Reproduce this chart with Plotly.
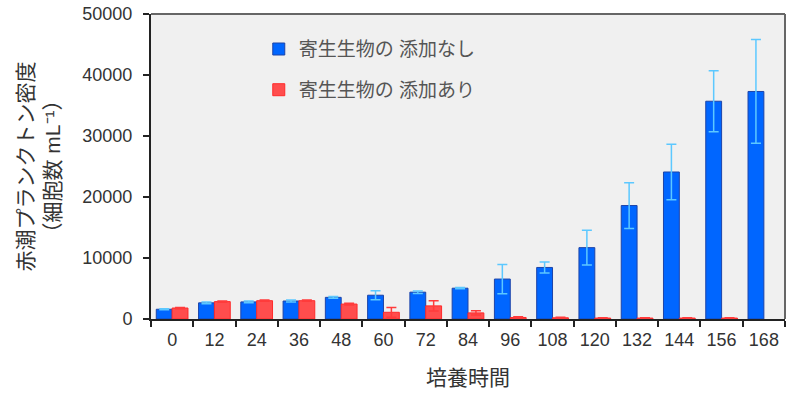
import plotly.graph_objects as go

hours = ["0", "12", "24", "36", "48", "60", "72", "84", "96", "108", "120", "132", "144", "156", "168"]
no_parasite = [1600, 2650, 2800, 2950, 3550, 3900, 4400, 5050, 6550, 8450, 11700, 18600, 24100, 35700, 37300]
no_parasite_err = [100, 150, 150, 150, 150, 750, 200, 100, 2400, 900, 2850, 3750, 4550, 5000, 8500]
with_parasite = [1800, 2850, 3000, 3000, 2450, 1100, 2150, 1000, 250, 200, 150, 150, 150, 150, None]
with_parasite_err = [100, 100, 100, 100, 150, 800, 850, 350, 100, 100, 50, 50, 50, 50, None]

name_no = "寄生生物の 添加なし"
name_with = "寄生生物の 添加あり"
y_title = "赤潮プランクトン密度<br>（細胞数 mL⁻¹）"
x_title = "培養時間"

FONT = "Liberation Sans, Arial, Noto Sans CJK JP, sans-serif"

fig = go.Figure()
fig.add_trace(go.Bar(
    x=hours, y=no_parasite, name=name_no, legendgroup="a",
    marker=dict(color="#0066ff", line=dict(color="#1d44a8", width=1)),
    error_y=dict(type="data", array=no_parasite_err, color="#5cc8ff", thickness=1.5, width=5),
))
fig.add_trace(go.Bar(
    x=hours, y=with_parasite, name=name_with, legendgroup="b",
    marker=dict(color="#ff4d4d", line=dict(color="#ff2a2a", width=1)),
    error_y=dict(type="data", array=with_parasite_err, color="#ff3b3b", thickness=1.5, width=5),
))

fig.update_layout(
    template="none",
    width=800, height=400,
    margin=dict(l=151, r=15, t=14, b=81, autoexpand=False),
    paper_bgcolor="white", plot_bgcolor="#f0f0f0",
    barmode="group", bargap=0.25, bargroupgap=0,
    font=dict(family=FONT, color="#333333"),
    legend=dict(x=0.17, y=0.947, xanchor="left", yanchor="top",
                bgcolor="rgba(0,0,0,0)", font=dict(size=19, color="#555555"),
                tracegroupgap=13, itemwidth=30),
    showlegend=True,
)
fig.update_xaxes(
    type="category", tickson="boundaries", ticks="outside", ticklen=6, tickwidth=2,
    tickcolor="#222222", showline=True, linecolor="#222222", linewidth=2,
    tickfont=dict(size=18, color="#333333"), automargin=False, ticklabelstandoff=3,
    title=dict(text=x_title, font=dict(size=21, color="#333333"), standoff=22),
    showgrid=False,
)
fig.update_yaxes(
    range=[0, 50000], dtick=10000, tickformat="d", ticks="outside", ticklen=6, tickwidth=2,
    tickcolor="#222222", showline=True, linecolor="#222222", linewidth=2,
    tickfont=dict(size=18, color="#333333"), automargin=False, ticklabelstandoff=7,
    title=dict(text=y_title, font=dict(size=21, color="#333333"), standoff=16),
    showgrid=False, zeroline=False,
)
# frame top/right
fig.add_shape(type="line", xref="paper", yref="paper", x0=0, x1=1, y0=1, y1=1,
              line=dict(color="#666666", width=2))
fig.add_shape(type="line", xref="paper", yref="paper", x0=1, x1=1, y0=0, y1=1,
              line=dict(color="#666666", width=2))

fig.write_html("out.html", config={"displayModeBar": False},
               post_script="document.body.style.margin='0';")
